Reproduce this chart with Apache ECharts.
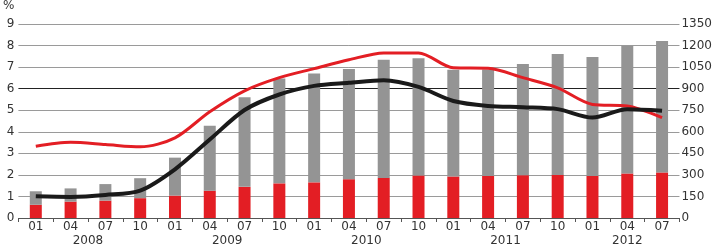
<!DOCTYPE html>
<html>
<head>
<meta charset="utf-8">
<script src="https://cdn.jsdelivr.net/npm/echarts@6/dist/echarts.min.js"></script>
<style>
    html, body { margin: 0; padding: 0; background: #fff; }
    #container { width: 715px; height: 247px; }
</style>
</head>
<body>
<div id="container"></div>
<script>
    // quarters, 2008-01 .. 2012-07
    let quarters = ['2008-01', '2008-04', '2008-07', '2008-10',
        '2009-01', '2009-04', '2009-07', '2009-10',
        '2010-01', '2010-04', '2010-07', '2010-10',
        '2011-01', '2011-04', '2011-07', '2011-10',
        '2012-01', '2012-04', '2012-07'];
    let years = ['2008', '2009', '2010', '2011', '2012'];

    // bars, right axis: full bar height and red lower part
    let barTotal = [186, 206, 236, 277, 420, 642, 840, 970, 1005, 1036, 1101, 1112, 1032, 1034, 1071, 1142, 1121, 1199, 1232];
    let barRed = [92, 114, 121, 138, 156, 190, 217, 241, 248, 270, 279, 296, 289, 293, 298, 300, 293, 310, 317];

    // lines, left axis (%)
    let redLine = [3.33, 3.51, 3.41, 3.30, 3.72, 4.93, 5.9, 6.51, 6.93, 7.34, 7.66, 7.66, 6.97, 6.95, 6.51, 6.04, 5.27, 5.2, 4.66];
    let blackLine = [1.01, 0.98, 1.07, 1.27, 2.26, 3.64, 5.01, 5.73, 6.13, 6.27, 6.39, 6.08, 5.43, 5.2, 5.14, 5.05, 4.66, 5.05, 4.98];

    let leftTicks = [0, 9, 1];
    let rightTicks = [0, 1350, 150];

    let RED = '#e31e24';
    let GREY = '#949494';
    let BLACK = '#1a1a1a';
    let TEXT = '#333';
    let FONT = 'DejaVu Sans';

    // grey part sits on top of the red part
    let barGrey = barTotal.map(function (v, i) {
        return v - barRed[i];
    });

    // centre of each year's quarters on the category scale
    let yearCenters = years.map(function (y) {
        let idx = [];
        quarters.forEach(function (q, i) {
            if (q.slice(0, 4) === y) idx.push(i);
        });
        return (idx[0] + idx[idx.length - 1]) / 2 + 0.5;
    });

    // grid line colours: line at 6 is drawn dark
    let gridColors = [];
    for (let v = leftTicks[0]; v <= leftTicks[1]; v += leftTicks[2]) {
        gridColors.push(v === 6 ? '#222' : '#9a9a9a');
    }

    let myChart = echarts.init(document.getElementById('container'), null, {renderer: 'canvas'});
    let option = {
        animation: false,
        backgroundColor: '#fff',
        textStyle: {fontFamily: FONT},
        grid: {left: 11, right: 33, top: 23, bottom: 28, containLabel: false},
        xAxis: [{
            type: 'category',
            data: quarters,
            boundaryGap: true,
            axisLine: {lineStyle: {color: '#555', width: 1}},
            axisTick: {show: true, length: 4, inside: false, lineStyle: {color: '#555'}},
            axisLabel: {
                color: TEXT, fontSize: 12, fontFamily: FONT, margin: 3, interval: 0,
                formatter: function (v) {
                    return v.slice(5);
                }
            },
            splitLine: {show: false}
        }, {
            type: 'value',
            position: 'bottom',
            min: 0,
            max: quarters.length,
            axisLine: {show: false},
            axisTick: {show: false},
            splitLine: {show: false},
            axisLabel: {
                color: TEXT, fontSize: 12, fontFamily: FONT, margin: 17,
                customValues: yearCenters,
                formatter: function (v) {
                    let i = yearCenters.indexOf(v);
                    return i >= 0 ? years[i] : '';
                }
            }
        }],
        yAxis: [{
            type: 'value',
            min: leftTicks[0], max: leftTicks[1], interval: leftTicks[2],
            name: '%',
            nameLocation: 'end',
            nameGap: 12,
            nameTextStyle: {color: TEXT, fontSize: 12, fontFamily: FONT, align: 'right', padding: [0, 4, 0, 0]},
            axisLine: {show: false},
            axisTick: {show: false},
            axisLabel: {color: TEXT, fontSize: 12, fontFamily: FONT, margin: 4},
            splitLine: {show: true, lineStyle: {color: gridColors, width: 1}}
        }, {
            type: 'value',
            position: 'right',
            min: rightTicks[0], max: rightTicks[1], interval: rightTicks[2],
            axisLine: {show: false},
            axisTick: {show: false},
            axisLabel: {
                color: TEXT, fontSize: 12, fontFamily: FONT, margin: 2,
                formatter: function (v) {
                    return String(v);
                }
            },
            splitLine: {show: false}
        }],
        series: [{
            name: 'red bar',
            type: 'bar',
            stack: 'bars',
            yAxisIndex: 1,
            barWidth: 12,
            itemStyle: {color: RED},
            data: barRed
        }, {
            name: 'grey bar',
            type: 'bar',
            stack: 'bars',
            yAxisIndex: 1,
            barWidth: 12,
            itemStyle: {color: GREY},
            data: barGrey
        }, {
            name: 'red line',
            type: 'line',
            yAxisIndex: 0,
            smooth: 0.3,
            symbol: 'none',
            lineStyle: {color: RED, width: 3},
            z: 5,
            data: redLine
        }, {
            name: 'black line',
            type: 'line',
            yAxisIndex: 0,
            smooth: 0.3,
            symbol: 'none',
            lineStyle: {color: BLACK, width: 4},
            z: 6,
            data: blackLine
        }]
    };
    myChart.setOption(option);
</script>
</body>
</html>
